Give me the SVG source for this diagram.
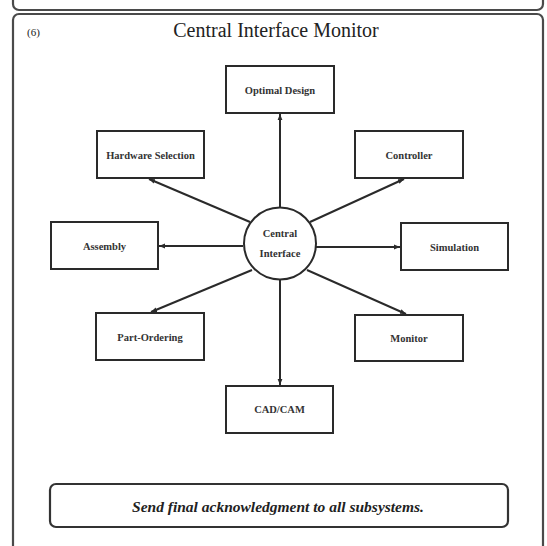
<svg xmlns="http://www.w3.org/2000/svg" width="547" height="546" viewBox="0 0 547 546">
<style>
.frame{fill:none;stroke:#4a4a4a;stroke-width:2.2}
.box{fill:#fff;stroke:#2a2a2a;stroke-width:2}
.lbl{font-family:"Liberation Serif","Times New Roman",serif;font-size:10.5px;font-weight:bold;fill:#333;text-anchor:middle;dominant-baseline:central}
.con{stroke:#2a2a2a;stroke-width:2;fill:none;marker-end:url(#ah)}
</style>
<defs>
<marker id="ah" viewBox="0 0 10 10" refX="10" refY="5" markerWidth="3" markerHeight="3" orient="auto" markerUnits="strokeWidth">
<path d="M0,1 L10,5 L0,9 z" fill="#2a2a2a"/>
</marker>
</defs>
<rect width="547" height="546" fill="#fff"/>
<g id="frames">
<rect class="frame" x="13" y="-20" width="530" height="30" rx="6"/>
<rect class="frame" x="13" y="14" width="530" height="560" rx="6"/>
<text x="27" y="36" font-family="Liberation Serif, serif" font-size="11" fill="#222">(6)</text>
<text x="276" y="37" font-family="Liberation Serif, serif" font-size="20" fill="#222" text-anchor="middle">Central Interface Monitor</text>
</g>
<g id="connectors">
<line class="con" x1="280" y1="207" x2="280" y2="114"/>
<line class="con" x1="250" y1="222" x2="149" y2="179"/>
<line class="con" x1="310" y1="222" x2="404" y2="179"/>
<line class="con" x1="243" y1="246" x2="159" y2="246"/>
<line class="con" x1="316" y1="247" x2="400" y2="247"/>
<line class="con" x1="252" y1="270" x2="151" y2="312"/>
<line class="con" x1="307" y1="270" x2="406" y2="314"/>
<line class="con" x1="280" y1="279" x2="280" y2="385"/>
</g>
<g id="center">
<circle cx="280" cy="243.5" r="36" fill="#fff" stroke="#2a2a2a" stroke-width="2"/>
<text class="lbl" x="280" y="233">Central</text>
<text class="lbl" x="280" y="253">Interface</text>
</g>
<g id="optimal-design"><rect class="box" x="226" y="66" width="108" height="47"/><text class="lbl" x="280" y="90">Optimal Design</text></g>
<g id="hardware-selection"><rect class="box" x="97" y="131" width="107" height="47"/><text class="lbl" x="150.5" y="155">Hardware Selection</text></g>
<g id="controller"><rect class="box" x="355" y="131" width="108" height="47"/><text class="lbl" x="409" y="155">Controller</text></g>
<g id="assembly"><rect class="box" x="51" y="222" width="107" height="47"/><text class="lbl" x="104.5" y="246">Assembly</text></g>
<g id="simulation"><rect class="box" x="401" y="223" width="107" height="47"/><text class="lbl" x="454.5" y="247">Simulation</text></g>
<g id="part-ordering"><rect class="box" x="96" y="313" width="108" height="47"/><text class="lbl" x="150" y="337">Part-Ordering</text></g>
<g id="monitor"><rect class="box" x="355" y="315" width="108" height="46"/><text class="lbl" x="409" y="338">Monitor</text></g>
<g id="cad-cam"><rect class="box" x="226" y="386" width="107" height="47"/><text class="lbl" x="279.5" y="409">CAD/CAM</text></g>
<g id="acknowledgment">
<rect x="50" y="484" width="458" height="43" rx="6" fill="#fff" stroke="#333" stroke-width="2.2"/>
<text x="278" y="506" font-family="Liberation Serif, serif" font-size="15.5" font-weight="bold" font-style="italic" fill="#222" text-anchor="middle" dominant-baseline="central">Send final acknowledgment to all subsystems.</text>
</g>
</svg>
